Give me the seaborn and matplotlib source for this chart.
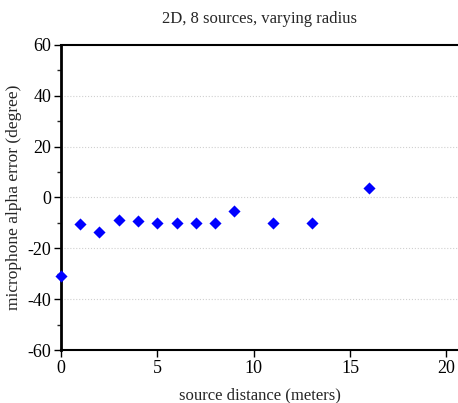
import matplotlib
matplotlib.use('Agg')
import matplotlib.pyplot as plt
import seaborn as sns
import pandas as pd
from matplotlib.ticker import MultipleLocator

# source distance (m) vs microphone alpha error (deg)
distance = [0, 1, 2, 3, 4, 5, 6, 7, 8, 9, 11, 13, 16]
alpha_err = [-31, -10.5, -13.6, -8.9, -9.3, -10, -10, -10, -10, -5.4, -10, -10, 3.6]

df = pd.DataFrame({'distance': distance, 'error': alpha_err})

sns.set_style('white')
plt.rcParams['font.family'] = ['Liberation Serif', 'DejaVu Serif']
plt.rcParams['axes.unicode_minus'] = False

fig = plt.figure(figsize=(4.58, 4.03), dpi=100)
ax = fig.add_axes([0.133, 0.1315, 0.867, 0.757])

sns.scatterplot(data=df, x='distance', y='error', marker='D', color='blue',
                s=38, edgecolor='blue', linewidth=0, ax=ax, zorder=3, clip_on=False)

ax.set_xlim(0, 20.6)
ax.set_ylim(-60, 60)
ax.xaxis.set_major_locator(MultipleLocator(5))
ax.yaxis.set_major_locator(MultipleLocator(20))
ax.yaxis.set_minor_locator(MultipleLocator(10))
ax.tick_params(axis='both', which='major', direction='out', length=5, width=1,
               labelsize=13, colors='black', left=True, bottom=True, pad=2)
ax.tick_params(axis='y', which='minor', direction='out', length=3, width=1, left=True)

for y in [-40, -20, 0, 20, 40]:
    ax.axhline(y, color='#d0d0d0', linestyle=':', linewidth=0.8, zorder=0)

for side in ['left', 'bottom', 'top']:
    ax.spines[side].set_color('black')
ax.spines['left'].set_linewidth(2)
ax.spines['bottom'].set_linewidth(1.5)
ax.spines['top'].set_linewidth(1.5)
ax.spines['right'].set_visible(False)

ax.set_xlabel('source distance (meters)', fontsize=12, labelpad=8)
ax.set_ylabel('microphone alpha error (degree)', fontsize=12.5, labelpad=4)
ax.set_title('2D, 8 sources, varying radius', fontsize=12, pad=16)

fig.savefig('out.png', dpi=100)
